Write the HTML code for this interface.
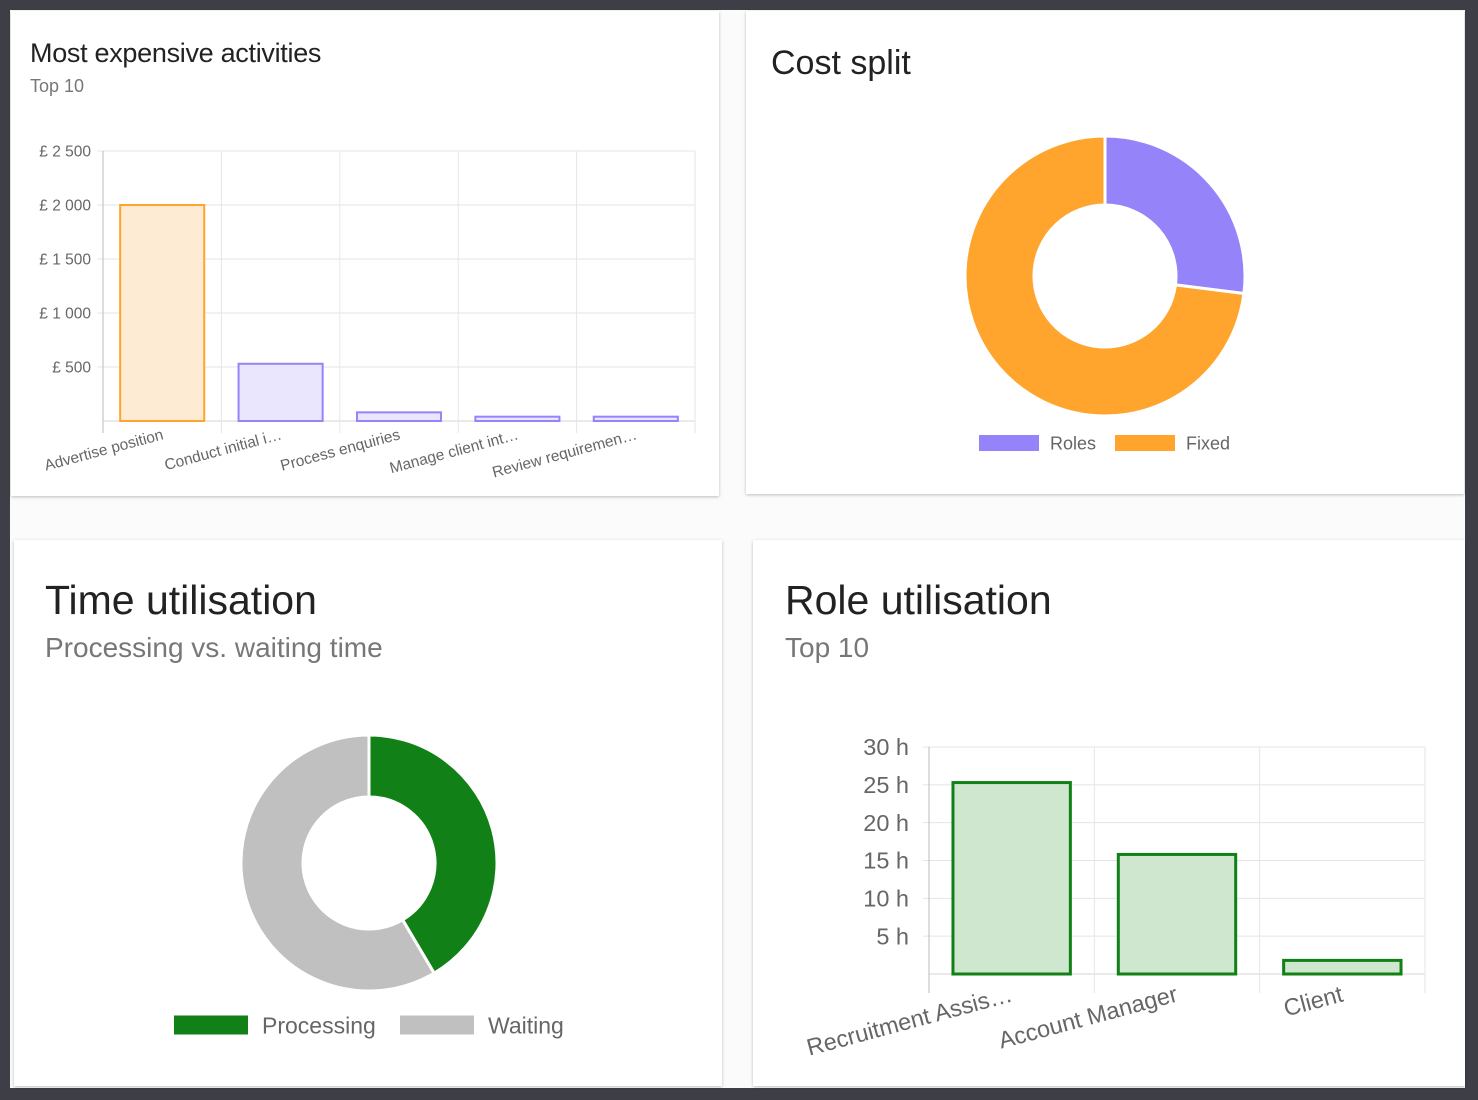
<!DOCTYPE html>
<html><head><meta charset="utf-8">
<style>
html,body{margin:0;padding:0;width:1478px;height:1100px;overflow:hidden;background:#3e3e46;font-family:"Liberation Sans",sans-serif;}
#inner{position:absolute;left:10px;top:10px;width:1455px;height:1078px;background:#fbfbfb;}
.card{position:absolute;background:#fff;box-shadow:0 1px 3px rgba(0,0,0,0.25);}
.t{position:absolute;color:#222;white-space:nowrap;}
.s{position:absolute;color:#777;white-space:nowrap;}
svg{position:absolute;left:0;top:0;}
</style></head><body>
<div id="inner"></div>
<div class="card" style="left:11px;top:11px;width:708px;height:485px"></div>
<div class="card" style="left:746px;top:11px;width:718px;height:483px"></div>
<div class="card" style="left:14px;top:540px;width:708px;height:546px"></div>
<div class="card" style="left:753px;top:540px;width:712px;height:546px"></div>

<div class="t" style="left:30px;top:38px;font-size:27px;letter-spacing:-0.3px">Most expensive activities</div>
<div class="s" style="left:30px;top:76px;font-size:18px">Top 10</div>
<div class="t" style="left:771px;top:44px;font-size:34px">Cost split</div>
<div class="t" style="left:45px;top:577px;font-size:41px">Time utilisation</div>
<div class="s" style="left:45px;top:632px;font-size:28px">Processing vs. waiting time</div>
<div class="t" style="left:785px;top:577px;font-size:41px">Role utilisation</div>
<div class="s" style="left:785px;top:632px;font-size:28px">Top 10</div>

<svg id="chart" width="1478" height="1100"></svg>

<script>
const costCategories = ["Advertise position","Conduct initial i…","Process enquiries","Manage client int…","Review requiremen…"];
const costValues = [2000, 530, 80, 40, 40];
const costTicks = [500, 1000, 1500, 2000, 2500];
const costTickLabels = ["£ 500","£ 1 000","£ 1 500","£ 2 000","£ 2 500"];

const splitLabels = ["Roles","Fixed"];
const splitValues = [27, 73];

const timeLabels = ["Processing","Waiting"];
const timeValues = [41.5, 58.5];

const roleCategories = ["Recruitment Assis…","Account Manager","Client"];
const roleValues = [25.3, 15.8, 1.8];
const roleTicks = [5,10,15,20,25,30];
const roleTickLabels = ["5 h","10 h","15 h","20 h","25 h","30 h"];

const NS="http://www.w3.org/2000/svg";
const svg=document.getElementById('chart');
function mk(tag,attrs,parent){const e=document.createElementNS(NS,tag);for(const k in attrs)e.setAttribute(k,attrs[k]);(parent||svg).appendChild(e);return e;}

function barChart(o){
  const g=mk('g',{});
  
  
  const y=v=>o.y0-(v/o.max)*(o.y0-o.y1);
  const bw=(o.x1-o.x0)/o.cats.length;
  o.ticks.forEach((t,i)=>{
    const l=mk('line',{x1:o.x0-6,x2:o.x1,y1:y(t),y2:y(t),stroke:'#e4e4e4','stroke-width':1},g);
    
    
    const tx=mk('text',{x:o.x0-o.tickGap,y:y(t)+o.fs*0.35,'text-anchor':'end','font-size':o.fs,fill:'#666'},g);
    tx.textContent=o.tickLabels[i];
    
    
  });
  mk('line',{x1:o.x0,x2:o.x1,y1:o.y0,y2:o.y0,stroke:'#e4e4e4','stroke-width':1.5},g);
  for(let i=0;i<=o.cats.length;i++){
    const x=o.x0+i*bw;
    const l=mk('line',{x1:x,x2:x,y1:y(o.max),y2:o.y0+o.tickLen,stroke:i==0?'#bbb':'#e6e6e6','stroke-width':1},g);
    
    
  }
  o.cats.forEach((c,i)=>{
    const v=o.vals[i];
    const cx=o.x0+bw*(i+0.5);
    const w=bw*o.frac;
    const col=o.colorFn(i);
    const r=mk('rect',{x:cx-w/2,y:y(v),width:w,height:o.y0-y(v),fill:col.fill,stroke:col.stroke,'stroke-width':o.sw},g);
    
    
    const tx=mk('text',{x:cx+o.lblDx,y:o.y0+o.lblDy,'text-anchor':'end','font-size':o.lfs,fill:'#666',transform:`rotate(-15 ${cx+o.lblDx} ${o.y0+o.lblDy})`},g);
    tx.textContent=c;
    
    
  });
}

barChart({name:'cost-bar-chart',cats:costCategories,vals:costValues,ticks:costTicks,tickLabels:costTickLabels,max:2500,
  x0:103,x1:695,y0:421,y1:151,fs:15.5,lfs:15.5,tickGap:12,frac:0.71,sw:2,tickLen:12,lblDx:2,lblDy:18,
  colorFn:i=>i==0?{fill:'#fdebd4',stroke:'#ffa52d'}:{fill:'#e9e6fd',stroke:'#9584f9'}});

barChart({name:'role-bar-chart',cats:roleCategories,vals:roleValues,ticks:roleTicks,tickLabels:roleTickLabels,max:30,
  x0:929,x1:1425,y0:974,y1:747,fs:23.5,lfs:23.5,tickGap:20,frac:0.71,sw:3,tickLen:19,lblDx:2,lblDy:27,
  colorFn:i=>({fill:'#cfe6cf',stroke:'#118016'})});

function donut(o){
  const g=mk('g',{});
  
  
  const tot=o.vals.reduce((a,b)=>a+b,0);
  let a=0;
  o.vals.forEach((v,i)=>{
    const a0=a/tot*2*Math.PI, a1=(a+v)/tot*2*Math.PI; a+=v;
    const p=(r,t)=>[o.cx+r*Math.sin(t),o.cy-r*Math.cos(t)];
    const large=(a1-a0)>Math.PI?1:0;
    const [x1,y1]=p(o.R,a0),[x2,y2]=p(o.R,a1),[x3,y3]=p(o.r,a1),[x4,y4]=p(o.r,a0);
    const d=`M${x1},${y1}A${o.R},${o.R} 0 ${large} 1 ${x2},${y2}L${x3},${y3}A${o.r},${o.r} 0 ${large} 0 ${x4},${y4}Z`;
    const s=mk('path',{d,fill:o.colors[i],stroke:'#fff','stroke-width':3},g);
    
    
  });
  o.labels.forEach((l,i)=>{
    const lx=o.legX[i];
    const b=mk('rect',{x:lx,y:o.legY-o.bh/2,width:o.bw,height:o.bh,fill:o.colors[i]},g);
    
    
    const t=mk('text',{x:lx+o.bw+o.gap,y:o.legY+o.fs*0.36,'font-size':o.fs,fill:'#666'},g);
    t.textContent=l;
    
    
  });
}
donut({name:'cost-split-donut',vals:splitValues,labels:splitLabels,colors:['#9584f9','#ffa52d'],cx:1105,cy:276,R:140,r:71,
  legX:[979,1115],legY:443,bw:60,bh:16,gap:11,fs:18});
donut({name:'time-donut',vals:timeValues,labels:timeLabels,colors:['#118016','#c0c0c0'],cx:369,cy:863,R:128,r:66,
  legX:[174,400],legY:1025,bw:74,bh:19,gap:14,fs:23});
</script>
</body></html>
